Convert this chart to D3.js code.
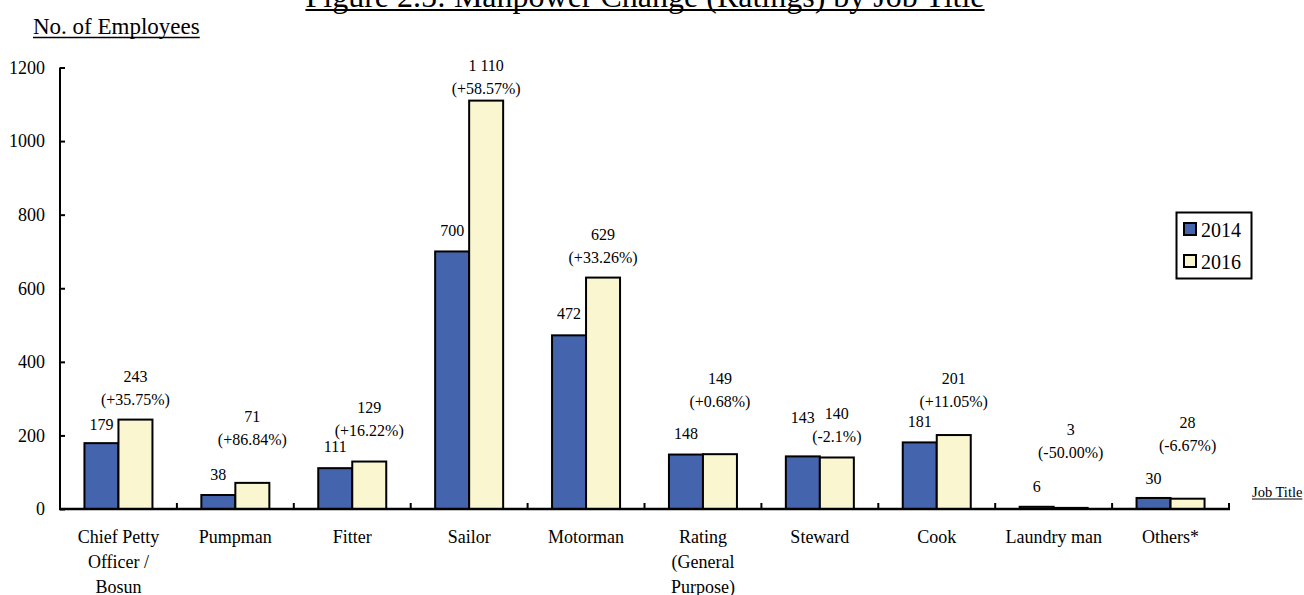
<!DOCTYPE html>
<html>
<head>
<meta charset="utf-8">
<script src="https://cdn.jsdelivr.net/npm/d3@7"></script>
<style>
  html, body { margin: 0; padding: 0; background: #fff; }
  svg { display: block; font-family: "Liberation Serif", "Times New Roman", serif; }
</style>
</head>
<body>
<svg id="chart" width="1304" height="595"></svg>
<script>
// Manpower by job title, 2014 vs 2016
const categories = [
  "Chief Petty\nOfficer /\nBosun", "Pumpman", "Fitter", "Sailor", "Motorman",
  "Rating\n(General\nPurpose)", "Steward", "Cook", "Laundry man", "Others*"
];
const seriesNames = ["2014", "2016"];
const values2014 = [179, 38, 111, 700, 472, 148, 143, 181, 6, 30];
const values2016 = [243, 71, 129, 1110, 629, 149, 140, 201, 3, 28];
const changeLabels = [
  "(+35.75%)", "(+86.84%)", "(+16.22%)", "(+58.57%)", "(+33.26%)",
  "(+0.68%)", "(-2.1%)", "(+11.05%)", "(-50.00%)", "(-6.67%)"
];
const yTicks = [0, 200, 400, 600, 800, 1000, 1200];

// Hand-placed label heights (px between bar top and label baseline)
const lift2014 = [13.5, 15, 16, 15, 16.5, 16, 33.5, 15, 14.5, 14];
const lift2016 = [14.5, 38, 26, 7, 14.5, 47, 15.5, 28, 50, 48];
const lineGap = 23;

const colors = ["#4464ad", "#faf6d0"];
const svg = d3.select("#chart");

const fmt = d3.formatLocale({ decimal: ".", thousands: " ", grouping: [3], currency: ["", ""] }).format(",d");

const x0 = d3.scaleBand().domain(d3.range(categories.length)).range([60, 1229]).padding(0);
const groupW = 68;
const x1 = d3.scaleBand().domain([0, 1]).range([0, groupW]).padding(0);
const y = d3.scaleLinear().domain([0, 1200]).range([509, 67.5]);

const groupX = i => x0(i) + (x0.bandwidth() - groupW) / 2;

// Title
const title = svg.append("text")
  .attr("x", 645).attr("y", 7)
  .attr("text-anchor", "middle")
  .attr("font-size", 32)
  .text("Figure 2.5: Manpower Change (Ratings) by Job Title");
function underline(sel, yLine, w) {
  const bb = sel.node().getBBox();
  svg.append("line")
    .attr("x1", bb.x).attr("x2", bb.x + bb.width)
    .attr("y1", yLine).attr("y2", yLine)
    .attr("stroke", "#000").attr("stroke-width", w);
}
underline(title, 10, 2);

const yTitle = svg.append("text")
  .attr("x", 33).attr("y", 34)
  .attr("font-size", 23)
  .text("No. of Employees");
underline(yTitle, 37.5, 1.5);

// Bars
const groups = svg.append("g").selectAll("g")
  .data(categories.map((c, i) => ({ i, vals: [values2014[i], values2016[i]] })))
  .join("g")
  .attr("transform", d => `translate(${groupX(d.i)},0)`);

groups.selectAll("rect")
  .data(d => d.vals.map((v, s) => ({ v, s })))
  .join("rect")
  .attr("x", d => x1(d.s))
  .attr("width", x1.bandwidth())
  .attr("y", d => y(d.v))
  .attr("height", d => y(0) - y(d.v))
  .attr("fill", d => colors[d.s])
  .attr("stroke", "#000")
  .attr("stroke-width", 2);

// Value labels
const labels = svg.append("g").attr("font-size", 16).attr("text-anchor", "middle");
categories.forEach((c, i) => {
  const gx = groupX(i);
  labels.append("text")
    .attr("x", gx + x1(0) + x1.bandwidth() / 2)
    .attr("y", y(values2014[i]) - lift2014[i])
    .text(fmt(values2014[i]));
  const cx = gx + x1(1) + x1.bandwidth() / 2;
  const base = y(values2016[i]) - lift2016[i];
  labels.append("text").attr("x", cx).attr("y", base).text(changeLabels[i]);
  labels.append("text").attr("x", cx).attr("y", base - lineGap).text(fmt(values2016[i]));
});

// Y axis
const yAxis = svg.append("g")
  .attr("transform", "translate(60,0)")
  .call(d3.axisLeft(y).tickValues(yTicks).tickSize(-5).tickPadding(15).tickFormat(d3.format("d")));
yAxis.select(".domain").attr("stroke", "#000").attr("stroke-width", 2)
  .attr("d", `M0,${y(0)}V${y(1200)}`);
yAxis.selectAll(".tick line").attr("stroke", "#000").attr("stroke-width", 2);
yAxis.selectAll(".tick text")
  .attr("font-family", "Liberation Serif, Times New Roman, serif")
  .attr("font-size", 18).attr("fill", "#000");

// X axis: ticks between categories
const xAxis = svg.append("g").attr("transform", `translate(0,${y(0)})`);
xAxis.append("line")
  .attr("x1", 59).attr("x2", 1230)
  .attr("stroke", "#000").attr("stroke-width", 2.5);
xAxis.selectAll("line.tk")
  .data(d3.range(1, categories.length + 1))
  .join("line").attr("class", "tk")
  .attr("x1", i => x0(i - 1) + x0.bandwidth())
  .attr("x2", i => x0(i - 1) + x0.bandwidth())
  .attr("y1", 0).attr("y2", -6)
  .attr("stroke", "#000").attr("stroke-width", 2);

xAxis.selectAll("text.cat")
  .data(categories)
  .join("text").attr("class", "cat")
  .attr("font-size", 18)
  .attr("text-anchor", "middle")
  .attr("transform", (d, i) => `translate(${x0(i) + x0.bandwidth() / 2},34)`)
  .each(function (d) {
    d3.select(this).selectAll("tspan")
      .data(d.split("\n"))
      .join("tspan")
      .attr("x", 0)
      .attr("dy", (t, k) => (k === 0 ? 0 : 25))
      .text(t => t);
  });

const jobTitle = svg.append("text")
  .attr("x", 1252).attr("y", 497)
  .attr("font-size", 14.5)
  .text("Job Title");
underline(jobTitle, 499, 1);

// Legend
const legend = svg.append("g");
legend.append("rect")
  .attr("x", 1176.5).attr("y", 212.5).attr("width", 75).attr("height", 66)
  .attr("fill", "#fff").attr("stroke", "#000").attr("stroke-width", 2);
seriesNames.forEach((name, s) => {
  const top = 223 + s * 32;
  legend.append("rect")
    .attr("x", 1184).attr("y", top).attr("width", 12).attr("height", 12)
    .attr("fill", colors[s]).attr("stroke", "#000").attr("stroke-width", 2);
  legend.append("text")
    .attr("x", 1201).attr("y", top + 14)
    .attr("font-size", 20)
    .text(name);
});
</script>
</body>
</html>
